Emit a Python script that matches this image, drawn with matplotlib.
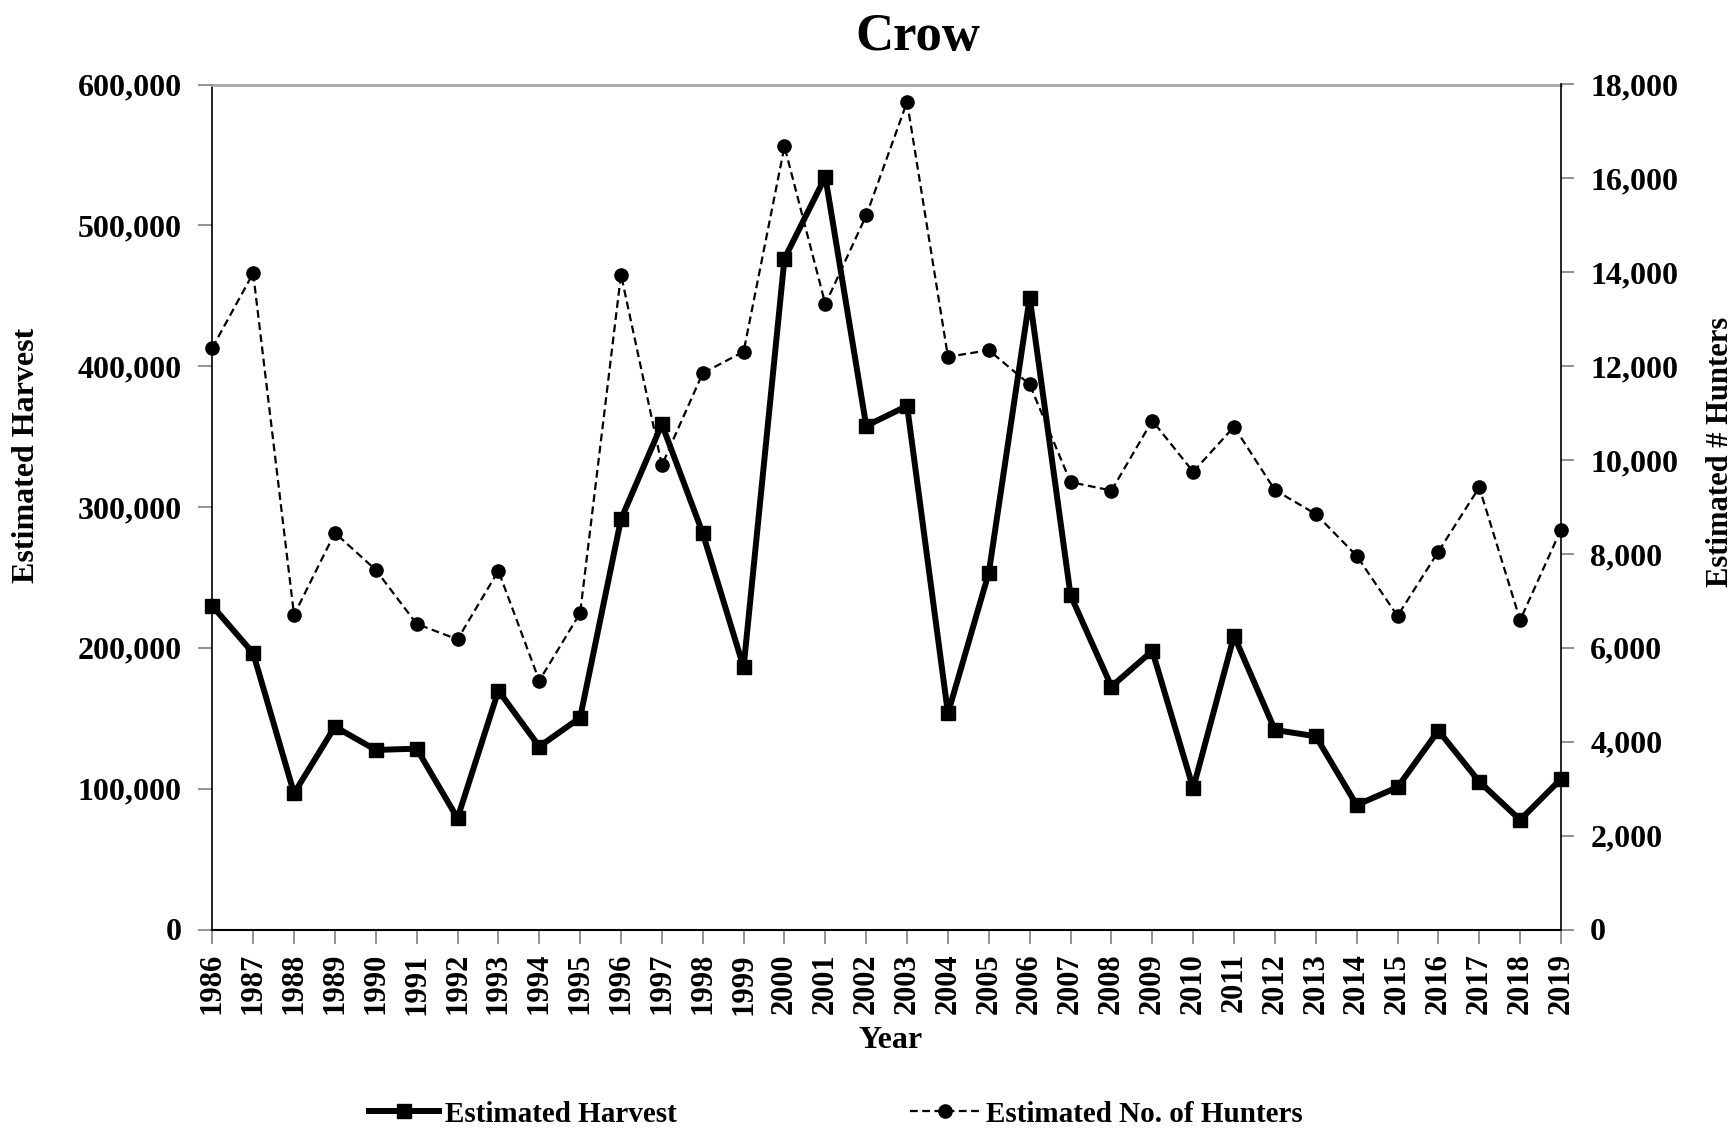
import numpy as np
import matplotlib
matplotlib.use("Agg")
import matplotlib.pyplot as plt
from matplotlib.ticker import FuncFormatter

plt.rcParams['font.family'] = ['Liberation Serif', 'DejaVu Serif']
plt.rcParams['font.weight'] = 'bold'

# data
years = list(range(1986, 2020))
harvest = [229800, 196200, 96700, 144000, 127500, 128400, 79000, 169600, 129900, 150400,
           291300, 358800, 281400, 186200, 476400, 534400, 357600, 371800, 153500, 253400,
           448700, 237300, 172500, 197800, 100300, 208500, 141700, 137200, 88400, 101000,
           141200, 105000, 77800, 106900]
hunters = [12390, 13980, 6700, 8450, 7660, 6510, 6180, 7640, 5300, 6740,
           13950, 9890, 11850, 12310, 16680, 13320, 15210, 17630, 12200, 12340,
           11610, 9530, 9350, 10840, 9750, 10710, 9360, 8850, 7960, 6680,
           8050, 9420, 6590, 8520]

title = "Crow"
left_label = "Estimated Harvest"
right_label = "Estimated # Hunters"
x_label = "Year"

W, H = 1735, 1132
fig = plt.figure(figsize=(W / 100, H / 100), dpi=100)
ax = fig.add_axes([212.3 / W, 1 - 929.5 / H, (1561 - 212.3) / W, (929.5 - 84.5) / H])
ax2 = ax.twinx()

tick_gray = '#808080'

# harvest (left axis)
h_line, = ax.plot(years, harvest, color='black', lw=4.3, marker='s', ms=9.5,
                  clip_on=False, zorder=3, label='Estimated Harvest')
ax.set_xlim(years[0], years[-1])
ax.set_ylim(0, 600000)
ax.set_yticks(np.arange(0, 600001, 100000))
ax.yaxis.set_major_formatter(FuncFormatter(lambda v, p: f"{int(v):,}"))
ax.set_xticks(years)
ax.set_xticklabels([str(y) for y in years], rotation=90, fontsize=22, fontweight='bold')
ax.tick_params(axis='x', direction='out', length=10, color=tick_gray, width=1.2, pad=7)
ax.tick_params(axis='y', direction='out', length=10, color=tick_gray, width=1.2,
               labelsize=23, pad=12)
for lab in ax.get_yticklabels():
    lab.set_fontweight('bold')

ax.spines['top'].set_color('#a6a6a6')
ax.spines['top'].set_linewidth(2)
ax.spines['left'].set_color('black')
ax.spines['left'].set_linewidth(1.2)
ax.spines['bottom'].set_color('black')
ax.spines['bottom'].set_linewidth(1.5)
ax.spines['right'].set_visible(False)

# hunters (right axis)
n_line, = ax2.plot(years, hunters, color='black', lw=1.6, ls=(0, (3.5, 2)), marker='o', ms=9.5,
                   clip_on=False, zorder=3, label='Estimated No. of Hunters')
ax2.set_ylim(0, 18000)
ax2.set_yticks(np.arange(0, 18001, 2000))
ax2.yaxis.set_major_formatter(FuncFormatter(lambda v, p: f"{int(v):,}"))
ax2.tick_params(axis='y', direction='out', length=9, color=tick_gray, width=1.2,
                labelsize=23, pad=12)
for lab in ax2.get_yticklabels():
    lab.set_fontweight('bold')
for s in ['top', 'left', 'bottom']:
    ax2.spines[s].set_visible(False)
ax2.spines['right'].set_color('black')
ax2.spines['right'].set_linewidth(1.2)

# titles
fig.text(918 / W, 1 - 50 / H, title, ha='center', va='baseline', fontsize=38, fontweight='bold')
fig.text(26 / W, 1 - 455 / H, left_label, ha='center', va='center', rotation=90,
         fontsize=23, fontweight='bold')
fig.text(1720 / W, 1 - 452 / H, right_label, ha='center', va='center', rotation=90,
         fontsize=22, fontweight='bold')
fig.text(891 / W, 1 - 1040 / H, x_label, ha='center', va='center', fontsize=23, fontweight='bold')

leg = fig.legend(handles=[h_line, n_line], loc='center', ncol=2,
                 bbox_to_anchor=(836 / W, 1 - 1114 / H), frameon=False,
                 prop={'family': 'Liberation Serif', 'weight': 'bold', 'size': 21},
                 handlelength=2.4, handletextpad=0.2, columnspacing=8.0,
                 borderaxespad=0, borderpad=0)

fig.savefig("out.png", dpi=100)
